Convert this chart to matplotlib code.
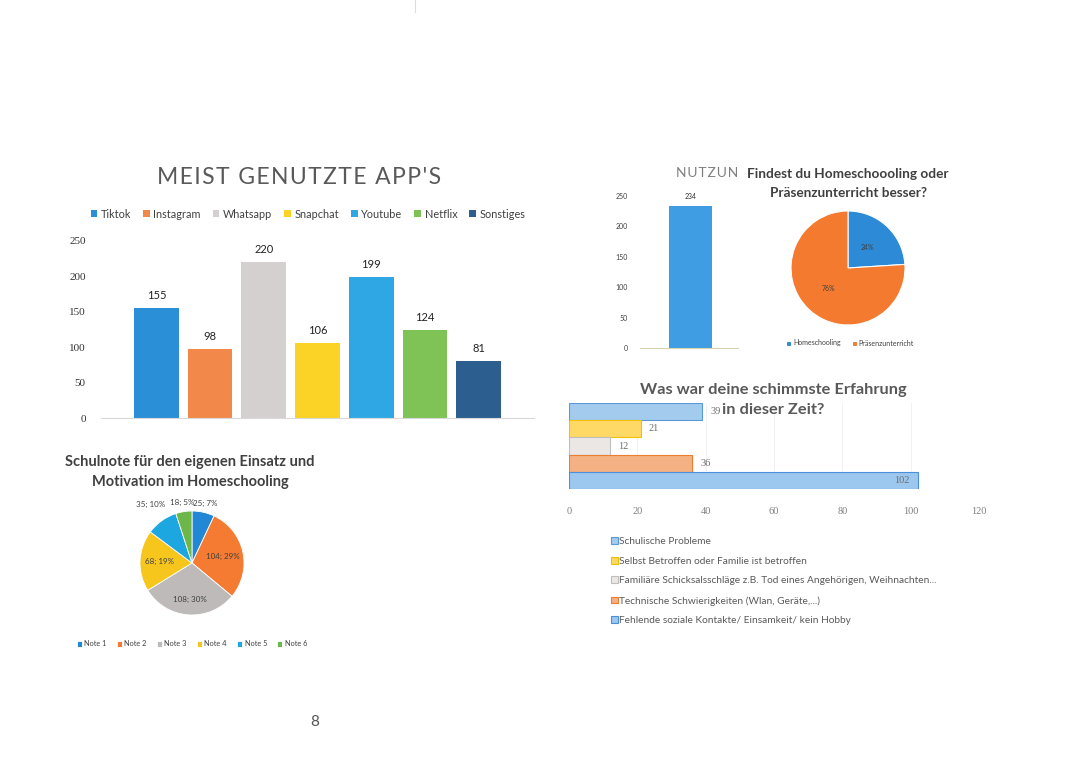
import numpy as np
import matplotlib
matplotlib.use("Agg")
import matplotlib.pyplot as plt
from matplotlib.patches import Rectangle
from matplotlib.lines import Line2D

W, H = 1080, 764
plt.rcParams["font.family"] = ["Lato", "DejaVu Sans"]

# data
apps = ["Tiktok", "Instagram", "Whatsapp", "Snapchat", "Youtube", "Netflix", "Sonstiges"]
app_users = [155, 98, 220, 106, 199, 124, 81]
app_colors = ["#2a8fd6", "#f2894a", "#d3d0cf", "#fbd326", "#2ea7e4", "#7fc255", "#2c5f8f"]

usage_values = [234]

compare_labels = ["Homeschooling", "Präsenzunterricht"]
compare_share = [24, 76]
compare_colors = ["#2c8ad6", "#f47a30"]

worst_labels = ["Schulische Probleme",
                "Selbst Betroffen oder Familie ist betroffen",
                "Familiäre Schicksalsschläge z.B. Tod eines Angehörigen, Weihnachten...",
                "Technische Schwierigkeiten (Wlan, Geräte,...)",
                "Fehlende soziale Kontakte/ Einsamkeit/ kein Hobby"]
worst_counts = [39, 21, 12, 36, 102]
worst_face = ["#a3cbee", "#ffd966", "#ebe7e5", "#f4b183", "#9cc7ee"]
worst_edge = ["#5b9bd5", "#f2c200", "#bfbfbf", "#ed7d31", "#4a90d9"]

grade_labels = ["Note 1", "Note 2", "Note 3", "Note 4", "Note 5", "Note 6"]
grade_counts = [25, 104, 108, 68, 35, 18]
grade_colors = ["#2287d4", "#f47b31", "#bdbab9", "#f7c61d", "#1ca7e1", "#6cb64a"]

SERIF = ["Liberation Serif", "DejaVu Serif"]


def box(x0, y0, x1, y1):
    return [x0 / W, 1 - y1 / H, (x1 - x0) / W, (y1 - y0) / H]


def ftext(x, y, s, **kw):
    kw.setdefault("ha", "center")
    kw.setdefault("va", "center")
    return fig.text(x / W, 1 - y / H, s, **kw)


def spaced(s, sep="\u200a"):
    return sep.join(s)


fig = plt.figure(figsize=(W / 100, H / 100), dpi=100)
fig.patch.set_facecolor("white")

# --- chart 1: most used apps ---
ax1 = fig.add_axes(box(101, 241, 534, 418))
bars = ax1.bar(range(len(apps)), app_users, width=0.83, color=app_colors)
for i, v in enumerate(app_users):
    ax1.annotate(str(v), (i, v), xytext=(0, 9), textcoords="offset points",
                 ha="center", va="center", fontsize=8, color="#222222")
ax1.set_xlim(-1.03, 7.03)
ax1.set_ylim(0, 250)
ax1.set_yticks(range(0, 251, 50))
ax1.set_xticks([])
ax1.tick_params(axis="y", length=0, pad=11, labelsize=8, labelcolor="#333333")
for lab in ax1.get_yticklabels():
    lab.set_family(SERIF)
for s in ["top", "right", "left"]:
    ax1.spines[s].set_visible(False)
ax1.spines["bottom"].set_color("#d9d9d9")
ax1.legend(bars.patches, apps, loc="center", bbox_to_anchor=(308 / W, 1 - 214 / H),
           bbox_transform=fig.transFigure, ncol=7, fontsize=7.8, frameon=False,
           handlelength=0.6, handleheight=0.6, handletextpad=0.35, columnspacing=1.1,
           labelcolor="#404040")
ftext(299, 178, spaced("MEIST GENUTZTE APP'S"), fontsize=16.5, color="#595959")

# --- chart 2: usage (partly hidden) ---
ax2 = fig.add_axes(box(640, 196, 760, 348))
ax2.bar([0], usage_values, width=1.0, color="#3f9de4")
ax2.annotate(str(usage_values[0]), (0, usage_values[0]), xytext=(0, 7),
             textcoords="offset points", ha="center", va="center", fontsize=5, color="#333333")
ax2.set_xlim(-1.17, 1.62)
ax2.set_ylim(0, 250)
ax2.set_yticks(range(0, 251, 50))
ax2.set_xticks([])
ax2.tick_params(axis="y", length=0, pad=9, labelsize=5, labelcolor="#404040")
for s in ["top", "right", "left"]:
    ax2.spines[s].set_visible(False)
ax2.spines["bottom"].set_color("#d6d3b0")
ftext(676, 173, spaced("NUTZUNG", "\u200a"), ha="left", fontsize=10, color="#7f7f7f")
fig.add_artist(Rectangle((739 / W, 1 - 356 / H), 226 / W, 198 / H,
                         transform=fig.transFigure, facecolor="white", edgecolor="none", zorder=4))

# --- chart 3: homeschooling vs presence ---
ax3 = fig.add_axes(box(791, 211, 905, 325), zorder=5)
ax3.pie(compare_share, colors=compare_colors, startangle=90, counterclock=False,
        autopct="%.0f%%", pctdistance=0.5,
        textprops=dict(fontsize=5, color="#404040"),
        wedgeprops=dict(edgecolor="white", linewidth=0.8))
ax3.set_xlim(-1, 1)
ax3.set_ylim(-1, 1)
ax3.legend(ax3.patches, compare_labels, loc="center", bbox_to_anchor=(850 / W, 1 - 343 / H),
           bbox_transform=fig.transFigure, ncol=2, fontsize=5.0, frameon=False,
           handlelength=0.7, handleheight=0.7, handletextpad=0.3, columnspacing=1.6,
           labelcolor="#404040")
ftext(848, 174, "Findest du Homeschoooling oder", fontsize=9.8, fontweight="bold",
      color="#404040", zorder=6)
ftext(848, 193, "Präsenzunterricht besser?", fontsize=9.8, fontweight="bold",
      color="#404040", zorder=6)

# --- chart 4: worst experience ---
ax4 = fig.add_axes(box(569, 403, 979, 489))
ypos = np.arange(len(worst_counts))[::-1]
hb = ax4.barh(ypos, worst_counts, height=1.0, color=worst_face, edgecolor=worst_edge, linewidth=0.8)
for y, v in zip(ypos, worst_counts):
    off = -11.5 if v > 80 else 9.5
    ax4.annotate(str(v), (v, y), xytext=(off, 0), textcoords="offset points",
                 ha="center", va="center", fontsize=7.5, color="#6f6f6f", family=SERIF)
ax4.set_xlim(0, 120)
ax4.set_ylim(-0.5, 4.5)
ax4.set_xticks(range(0, 121, 20))
ax4.set_yticks([])
ax4.tick_params(axis="x", length=0, pad=13, labelsize=7.5, labelcolor="#7f7f7f")
for lab in ax4.get_xticklabels():
    lab.set_family(SERIF)
ax4.grid(axis="x", color="#f0f0f0", linewidth=0.6)
ax4.set_axisbelow(True)
for s in ax4.spines.values():
    s.set_visible(False)
ax4.legend(hb.patches, worst_labels, loc="upper left", bbox_to_anchor=(606 / W, 1 - 532 / H),
           bbox_transform=fig.transFigure, fontsize=7.3, frameon=False,
           handlelength=0.65, handleheight=0.65, handletextpad=0.15, labelspacing=1.05,
           labelcolor="#595959", borderpad=0)
ftext(773, 390, "Was war deine schimmste Erfahrung", fontsize=11.8, fontweight="bold",
      color="#595959")
ftext(773, 410, "in dieser Zeit?", fontsize=11.8, fontweight="bold", color="#595959")

# --- chart 5: grades ---
ax5 = fig.add_axes(box(140, 511, 244, 615))
wedges, _ = ax5.pie(grade_counts, colors=grade_colors, startangle=90, counterclock=False,
                    wedgeprops=dict(edgecolor="white", linewidth=0.6))
total = sum(grade_counts)
label_r = [1.17, 0.6, 0.7, 0.62, 1.38, 1.17]
for w, v, r in zip(wedges, grade_counts, label_r):
    ang = np.deg2rad((w.theta1 + w.theta2) / 2)
    ax5.text(r * np.cos(ang), r * np.sin(ang), f"{v}; {round(100 * v / total)}%",
             ha="center", va="center", fontsize=5.8, color="#404040")
ax5.set_xlim(-1, 1)
ax5.set_ylim(-1, 1)
ax5.legend(wedges, grade_labels, loc="center", bbox_to_anchor=(192 / W, 1 - 644 / H),
           bbox_transform=fig.transFigure, ncol=6, fontsize=5.3, frameon=False,
           handlelength=0.7, handleheight=0.7, handletextpad=0.3, columnspacing=1.4,
           labelcolor="#404040")
ftext(190, 462, "Schulnote für den eigenen Einsatz und", fontsize=10.5, fontweight="bold",
      color="#404040")
ftext(190, 482, "Motivation im Homeschooling", fontsize=10.5, fontweight="bold", color="#404040")

# page number and divider
ftext(315, 722, "8", fontsize=11, color="#555555")
fig.add_artist(Line2D([415 / W, 415 / W], [1, 1 - 12 / H], transform=fig.transFigure,
                      color="#dddddd", linewidth=0.8))

fig.savefig("out.png", dpi=100)
